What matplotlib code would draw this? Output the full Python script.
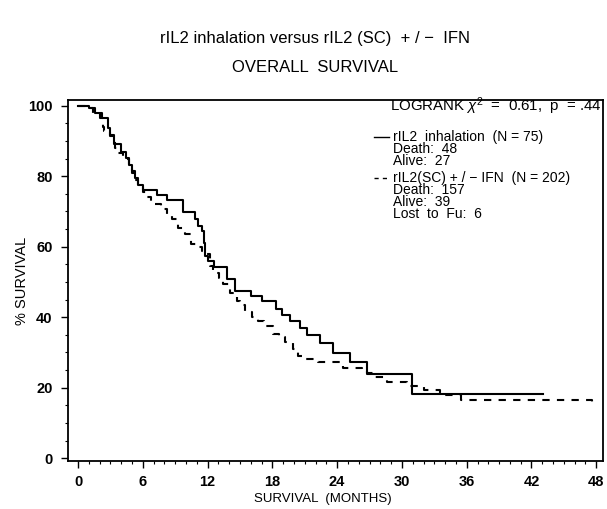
import matplotlib
matplotlib.use('Agg')
import matplotlib.pyplot as plt
from matplotlib.ticker import MultipleLocator
import numpy as np

plt.rcParams['font.family'] = ['Liberation Sans', 'DejaVu Sans']
plt.rcParams['mathtext.fontset'] = 'custom'
plt.rcParams['mathtext.it'] = 'Liberation Sans:italic'
plt.rcParams['mathtext.rm'] = 'Liberation Sans'

# Kaplan-Meier curves (months, % surviving after step)
inh_t = [0, 1.0, 1.6, 2.2, 2.8, 3.0, 3.3, 4.0, 4.4, 4.7, 5.0, 5.3, 5.6, 6.0,
         7.3, 8.2, 9.7, 10.8, 11.1, 11.5, 11.7, 11.8, 12.0, 12.6, 13.8, 14.5,
         16.0, 17.0, 18.3, 18.9, 19.6, 20.6, 21.2, 22.4, 23.6, 25.2, 26.8,
         30.9, 43.1]
inh_s = [100, 99.3, 98.0, 96.5, 93.7, 91.8, 89.2, 87.0, 85.3, 83.2, 81.5,
         79.5, 77.6, 76.0, 74.8, 73.2, 69.8, 68.0, 66.0, 64.5, 61.0, 57.5,
         56.0, 54.2, 50.7, 47.4, 46.0, 44.5, 42.2, 40.5, 38.8, 37.0, 35.0,
         32.7, 29.8, 27.2, 23.9, 18.3, 18.3]

sc_t = [0, 0.8, 1.4, 2.0, 2.3, 2.4, 3.0, 3.4, 3.7, 4.2, 4.7, 5.0, 5.3, 5.6,
        6.0, 6.4, 6.8, 7.7, 8.2, 8.7, 9.3, 9.9, 10.5, 11.0, 11.5, 11.8, 12.2,
        12.5, 13.1, 13.4, 14.1, 14.7, 15.0, 15.5, 16.1, 16.7, 17.2, 18.1,
        18.6, 19.2, 19.9, 20.4, 21.0, 22.2, 24.5, 26.3, 26.8, 27.5, 28.6,
        30.5, 32.0, 33.5, 35.5, 47.6, 47.6]
sc_s = [100, 99.3, 98.0, 96.5, 94.0, 92.8, 91.3, 88.0, 86.6, 85.0, 83.5,
        81.0, 79.0, 77.0, 75.5, 74.0, 72.0, 70.7, 69.3, 67.8, 65.4, 63.5,
        60.7, 59.8, 58.8, 57.8, 54.5, 52.6, 51.2, 49.3, 47.0, 44.5, 43.6,
        41.5, 40.0, 38.8, 37.5, 35.2, 34.3, 33.0, 31.0, 29.0, 28.2, 27.3,
        25.7, 24.8, 24.2, 23.0, 21.5, 20.5, 19.4, 17.9, 16.4, 16.4, 14.3]

x_ticks = [0, 6, 12, 18, 24, 30, 36, 42, 48]
y_ticks = [0, 20, 40, 60, 80, 100]

legend_lines = [
    ('-', ['rIL2  inhalation  (N = 75)', 'Death:  48', 'Alive:  27']),
    ('--', ['rIL2(SC) + / \u2212 IFN  (N = 202)', 'Death:  157', 'Alive:  39',
            'Lost  to  Fu:  6']),
]

fig = plt.figure(figsize=(6.07, 5.09), dpi=100)
ax = fig.add_axes([0.112, 0.094, 0.881, 0.710])

ax.plot(inh_t, inh_s, drawstyle='steps-post', color='black', lw=1.5)
ax.plot(sc_t, sc_s, drawstyle='steps-post', color='black', lw=1.5,
        dashes=(3.5, 3.5))

ax.set_xlim(-0.93, 48.6)
ax.set_ylim(-0.85, 101.7)
ax.set_xticks(x_ticks)
ax.set_yticks(y_ticks)
ax.xaxis.set_minor_locator(MultipleLocator(1))
ax.yaxis.set_minor_locator(MultipleLocator(5))
ax.tick_params(which='major', direction='out', length=5, width=1.0,
               labelsize=10.5, pad=6)
ax.tick_params(axis='x', which='major', pad=5)
ax.tick_params(which='minor', direction='out', length=2.5, width=0.8)
for lab in ax.get_xticklabels() + ax.get_yticklabels():
    lab.set_fontweight('bold')
for sp in ax.spines.values():
    sp.set_linewidth(1.3)

ax.set_ylabel('% SURVIVAL', fontsize=10.5)
ax.yaxis.set_label_coords(-0.072, 0.5)
ax.set_xlabel('SURVIVAL  (MONTHS)', fontsize=9.5)
ax.xaxis.set_label_coords(0.477, -0.088)

fig.text(0.519, 1 - 38 / 509, 'rIL2 inhalation versus rIL2 (SC)  + / \u2212  IFN',
         ha='center', va='center', fontsize=12)
fig.text(0.519, 1 - 68 / 509, 'OVERALL  SURVIVAL', ha='center', va='center',
         fontsize=12)

ax.text(0.603, 0.981, r'LOGRANK $\chi^2$  =  0.61,  p  = .44',
        transform=ax.transAxes, ha='left', va='center', fontsize=10.8)

# legend: one sample line plus a text block per group
y_first = [0.898, 0.784]
for (style, lines), yl in zip(legend_lines, y_first):
    ax.plot([0.573, 0.600], [yl, yl], transform=ax.transAxes, color='black',
            lw=1.0, ls=style, dashes=(3, 3) if style == '--' else (None, None))
    ax.text(0.607, yl + 0.019, '\n'.join(lines), transform=ax.transAxes,
            ha='left', va='top', fontsize=10, linespacing=0.82)

fig.savefig('out.png', dpi=100)
